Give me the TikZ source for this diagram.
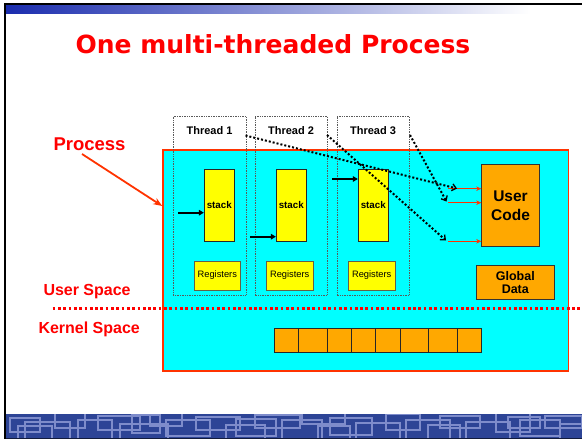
\documentclass[tikz,border=0pt]{standalone}
\usepackage{fontspec}
\newfontfamily\arialfont{Liberation Sans}
\newfontfamily\verdfont{DejaVu Sans}
\usetikzlibrary{arrows.meta}
\definecolor{slideblue}{HTML}{2D4496}
\definecolor{patternblue}{HTML}{7E8CCB}
\definecolor{barblue}{HTML}{1A2CAE}
\definecolor{procred}{HTML}{FF3300}
\definecolor{titlered}{HTML}{FF0000}
\definecolor{cyanfill}{HTML}{00FFFF}
\definecolor{yellowfill}{HTML}{FFFF00}
\definecolor{orangefill}{HTML}{FFA800}
\tikzset{
  stackbox/.style={draw=black!85, line width=0.9pt, fill=yellowfill, inner sep=0pt,
    minimum width=30pt, minimum height=71.7pt, font=\arialfont\bfseries\fontsize{9.8}{11}\selectfont},
  regbox/.style={draw=black!70!yellow, line width=0.9pt, fill=yellowfill, inner sep=0pt,
    minimum width=46.7pt, minimum height=29pt, font=\arialfont\fontsize{9.3}{11}\selectfont},
  threadbox/.style={draw=black!65, line width=0.5pt, dash pattern=on 0.7pt off 1pt,
    inner sep=0pt, minimum width=72.5pt, minimum height=179pt},
  threadlabel/.style={font=\arialfont\bfseries\fontsize{11}{13}\selectfont, inner sep=0pt},
  codebox/.style={draw=black!80, line width=0.9pt, fill=orangefill, inner sep=0pt, align=center},
  kcell/.style={draw=black!85, line width=0.9pt, fill=orangefill},
  redlabel/.style={text=titlered, font=\arialfont\bfseries\fontsize{16}{19}\selectfont, inner sep=0pt},
  ptr/.style={draw=black, line width=2.4pt, -{Triangle[length=5pt,width=5.5pt]}},
  codeptr/.style={draw=procred, line width=1.1pt, -{Stealth[length=5pt,width=4.5pt]}},
  dotptr/.style={draw=black, line width=2pt, dash pattern=on 2pt off 2pt,
    -{Straight Barb[length=4pt,width=7pt,line width=1.3pt]}},
}
\begin{document}
\begin{tikzpicture}[x=1pt,y=-1pt]
\useasboundingbox (0,0) rectangle (582,439);
\fill[white] (0,0) rectangle (582,439);

% slide frame and header bar
\shade[left color=barblue, right color=white] (6,4.5) rectangle (531,13.5);
\draw[black, line width=1.4pt] (5,439) -- (5,3.8) -- (582,3.8);

% footer band with line pattern
\begin{scope}
  \clip (6,414) rectangle (582,439);
  \fill[slideblue] (6,414) rectangle (582,439);
  \foreach \xa/\ya/\xb/\yb in {
      10/418/40/432, 25/422/70/445, 55/411/85/428, 78/420/112/440, 98/416/140/430,
      120/424/168/445, 150/411/182/426, 166/420/210/436, 196/417/240/430, 226/425/265/445,
      255/415/300/428, 282/420/322/440, 302/411/345/424, 330/418/372/435, 356/423/400/445,
      386/414/420/430, 406/420/450/440, 440/416/480/428, 466/422/510/445, 496/411/530/432,
      520/420/560/436, 545/416/582/428, 560/424/590/445,
      18/426/52/445, 132/415/160/433, 236/419/276/436, 318/426/350/445, 428/425/460/445,
      508/417/540/428}
    \draw[patternblue, line width=1.1pt] (\xa,\ya) rectangle (\xb,\yb);
  \draw[black!60!slideblue, line width=1.5pt] (6,438.5) -- (582,438.5);
\end{scope}
\draw[black, line width=1.4pt] (5,414) -- (5,439);

% title
\node[text=titlered, font=\verdfont\bfseries\fontsize{25}{30}\selectfont, anchor=base, inner sep=0pt]
  (title) at (273,53.3) {One multi-threaded Process};

% process address space
\node[draw=procred, line width=1.6pt, fill=cyanfill, inner sep=0pt, minimum width=405.5pt,
  minimum height=221pt] (proc) at (365.75,260.5) {};

% threads
\node[threadbox] (t1) at (209.5,205.5) {};
\node[threadbox] (t2) at (291,205.5) {};
\node[threadbox] (t3) at (373,205.5) {};
\node[threadlabel] (t1l) at (209.5,131) {Thread 1};
\node[threadlabel] (t2l) at (291,131) {Thread 2};
\node[threadlabel] (t3l) at (373,131) {Thread 3};

% stacks and registers
\node[stackbox] (s1) at (219.3,205.2) {stack};
\node[stackbox] (s2) at (291.3,205.2) {stack};
\node[stackbox] (s3) at (373.3,205.2) {stack};
\node[regbox] (r1) at (217.3,275.5) {\raisebox{-4pt}{Registers}};
\node[regbox] (r2) at (289.7,275.5) {\raisebox{-4pt}{Registers}};
\node[regbox] (r3) at (371.7,275.5) {\raisebox{-4pt}{Registers}};

% code and data
\node[codebox, minimum width=57.6pt, minimum height=82.4pt,
  font=\arialfont\bfseries\fontsize{15.5}{18.7}\selectfont] (code) at (510.5,205.5) {User\\Code};
\node[codebox, minimum width=77.3pt, minimum height=33.6pt,
  font=\arialfont\bfseries\fontsize{12.5}{14}\selectfont] (data) at (515.3,282.5) {Global\\[-1pt]Data};

% kernel side table
\foreach \xa/\xb [count=\i] in {274.3/298.3, 298.3/327.7, 327.7/351.7, 351.7/375.7,
    375.7/400, 400/428.3, 428.3/457.7, 457.7/481.7}
  \node[kcell, inner sep=0pt, minimum width={\xb-\xa}, minimum height=24pt] (k\i)
    at ({(\xa+\xb)/2},340.3) {};

% labels
\node[redlabel, anchor=base west, font=\arialfont\bfseries\fontsize{18.5}{22}\selectfont]
  (plabel) at (53.3,150.7) {Process};
\node[redlabel, anchor=base west] (ulabel) at (43.3,295.7) {User Space};
\node[redlabel, anchor=base west] (klabel) at (38.3,333.7) {Kernel Space};

% user / kernel boundary
\coordinate (divL) at (52.7,308.7);
\coordinate (divR) at (582,308.7);
\draw[titlered, line width=2.8pt, dash pattern=on 2.7pt off 2.6pt] (divL) -- (divR);

% process pointer
\coordinate (pstart) at (82,154);
\draw[procred, line width=1.8pt, -{Stealth[length=9pt,width=7pt]}] (pstart) -- (proc.west |- 0,206);

% stack pointers
\coordinate (sp1) at (178,212.7);
\coordinate (sp2) at (250,236.7);
\coordinate (sp3) at (332,179);
\draw[ptr] (sp1) -- (s1.west |- sp1);
\draw[ptr] (sp2) -- (s2.west |- sp2);
\draw[ptr] (sp3) -- (s3.west |- sp3);

% program counters into user code
\coordinate (pc1) at (448.3,188.7);
\coordinate (pc2) at (448.3,202.7);
\coordinate (pc3) at (448.3,241.3);
\draw[codeptr] (pc1) -- (code.west |- pc1);
\draw[codeptr] (pc2) -- (code.west |- pc2);
\draw[codeptr] (pc3) -- (code.west |- pc3);

% thread execution paths
\coordinate (e1) at (245.5,135.5);
\coordinate (e2) at (327,135);
\coordinate (e3) at (410,135);
\draw[dotptr] (e1) -- (457,188.5);
\draw[dotptr] (e2) -- (446,240.5);
\draw[dotptr] (e3) -- (446.5,201.5);
\end{tikzpicture}
\end{document}
